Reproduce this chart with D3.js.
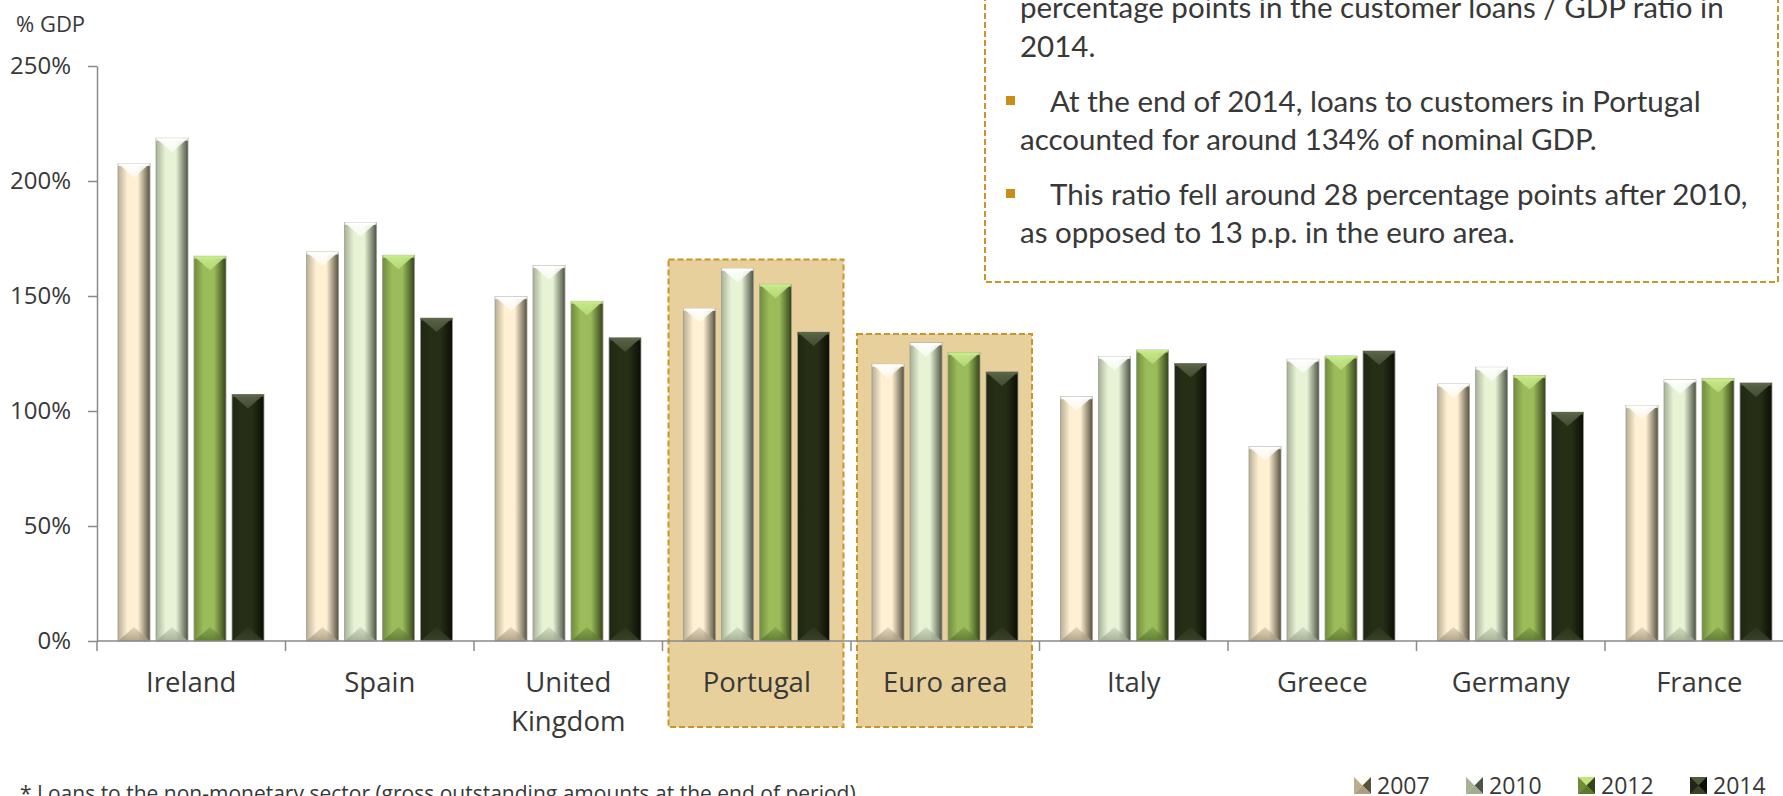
<!DOCTYPE html>
<html>
<head>
<meta charset="utf-8">
<script src="https://cdn.jsdelivr.net/npm/d3@7"></script>
<style>
  html, body { margin: 0; padding: 0; background: #fff; overflow: hidden; }
  svg { display: block; }
</style>
</head>
<body>
<svg id="chart" width="1783" height="796"></svg>
<script>
// Customer loans as % of GDP, by country and year
const categories = ["Ireland", "Spain", "United Kingdom", "Portugal", "Euro area", "Italy", "Greece", "Germany", "France"];
const years = ["2007", "2010", "2012", "2014"];
const values2007 = [207.6, 169.1, 149.7, 144.6, 120.3, 106.2, 84.5, 111.7, 102.4];
const values2010 = [218.6, 182.0, 163.2, 162.0, 129.6, 123.7, 122.5, 119.0, 113.5];
const values2012 = [167.3, 167.7, 147.7, 155.1, 125.4, 126.5, 123.9, 115.4, 114.1];
const values2014 = [107.2, 140.4, 131.8, 134.3, 117.0, 120.6, 126.1, 99.5, 112.2];
const yTicks = [0, 50, 100, 150, 200, 250];
const highlighted = ["Portugal", "Euro area"];
const noteLines = [
  { text: "percentage points in the customer loans / GDP ratio in", bullet: false },
  { text: "2014.", bullet: false },
  { text: "At the end of 2014, loans to customers in Portugal", bullet: true },
  { text: "accounted for around 134% of nominal GDP.", bullet: false },
  { text: "This ratio fell around 28 percentage points after 2010,", bullet: true },
  { text: "as opposed to 13 p.p. in the euro area.", bullet: false }
];
const footnote = "* Loans to the non-monetary sector (gross outstanding amounts at the end of period)";

const seriesValues = { "2007": values2007, "2010": values2010, "2012": values2012, "2014": values2014 };

// bevel palette for each series: side shades, face, top and bottom facets
const palette = {
  "2007": { l: "#b9ae93", face: "#fff0d3", r: "#57513f", top: "#ffffff", bot: "#a99d82" },
  "2010": { l: "#a7b198", face: "#e8f3d6", r: "#4c5443", top: "#ffffff", bot: "#a1ab91" },
  "2012": { l: "#6f8c3c", face: "#9cbc5b", r: "#34441a", top: "#c9ec8c", bot: "#5d7a2f" },
  "2014": { l: "#1f2612", face: "#262e16", r: "#0b0f05", top: "#5b6649", bot: "#3b4329" }
};

const svg = d3.select("#chart");
const defs = svg.append("defs");

const FONT = "'Open Sans', 'Noto Sans', sans-serif";
const TEXT = "#383838";

const x0 = d3.scaleBand().domain(categories).range([97, 97 + 9 * 188.5]).padding(0);
const x1 = d3.scaleBand().domain(years).range([21, 167]).paddingInner(0.158);
const y = d3.scaleLinear().domain([0, 250]).range([641, 66]);

years.forEach(yr => {
  const p = palette[yr];
  const g = defs.append("linearGradient").attr("id", "side" + yr)
    .attr("x1", "0%").attr("x2", "100%").attr("y1", "0%").attr("y2", "0%");
  g.append("stop").attr("offset", "0%").attr("stop-color", p.l);
  g.append("stop").attr("offset", "30%").attr("stop-color", p.face);
  g.append("stop").attr("offset", "62%").attr("stop-color", p.face);
  g.append("stop").attr("offset", "100%").attr("stop-color", p.r);
  const t = defs.append("linearGradient").attr("id", "top" + yr)
    .attr("x1", "0%").attr("x2", "0%").attr("y1", "0%").attr("y2", "100%");
  t.append("stop").attr("offset", "0%").attr("stop-color", p.top).attr("stop-opacity", 0.95);
  t.append("stop").attr("offset", "100%").attr("stop-color", p.top).attr("stop-opacity", 0.55);
  const b = defs.append("linearGradient").attr("id", "bot" + yr)
    .attr("x1", "0%").attr("x2", "0%").attr("y1", "0%").attr("y2", "100%");
  b.append("stop").attr("offset", "0%").attr("stop-color", p.bot).attr("stop-opacity", 0.3);
  b.append("stop").attr("offset", "100%").attr("stop-color", p.bot).attr("stop-opacity", 0.9);
});

// highlight panels behind selected groups
const boxes = svg.append("g");
highlighted.forEach(c => {
  const i = categories.indexOf(c);
  const top = y(d3.max(years, yr => seriesValues[yr][i])) - 9;
  boxes.append("rect")
    .attr("x", x0(c) + 6).attr("y", top)
    .attr("width", 175).attr("height", 727 - top)
    .attr("fill", "#e7d09b")
    .attr("stroke", "#c9952a").attr("stroke-width", 2)
    .attr("stroke-dasharray", "6,3");
});

// bars
const bevel = 14;
const groups = svg.append("g").selectAll("g").data(categories).join("g")
  .attr("transform", c => `translate(${x0(c)},0)`);

groups.each(function(c, i) {
  const g = d3.select(this);
  years.forEach(yr => {
    const v = seriesValues[yr][i];
    const bx = x1(yr), bw = x1.bandwidth();
    const by = y(v), bb = y(0);
    const d = Math.min(bevel, (bb - by) / 2);
    g.append("rect").attr("x", bx).attr("y", by).attr("width", bw).attr("height", bb - by)
      .attr("fill", `url(#side${yr})`)
      .attr("stroke", "#9c9c94").attr("stroke-width", 0.8);
    g.append("path")
      .attr("d", `M${bx},${by}L${bx + bw},${by}L${bx + bw / 2},${by + d}Z`)
      .attr("fill", `url(#top${yr})`);
    g.append("rect").attr("x", bx).attr("y", by).attr("width", bw).attr("height", 2.5)
      .attr("fill", palette[yr].top).attr("opacity", 0.7);
    g.append("path")
      .attr("d", `M${bx},${bb}L${bx + bw},${bb}L${bx + bw / 2},${bb - d}Z`)
      .attr("fill", `url(#bot${yr})`);
  });
});

// y axis
const yAxis = svg.append("g").attr("transform", "translate(97,0)")
  .call(d3.axisLeft(y).tickValues(yTicks).tickSize(9).tickSizeOuter(0).tickFormat(d => d + "%"));
yAxis.select(".domain").attr("stroke", "#8a8a8a").attr("stroke-width", 1.5);
yAxis.selectAll(".tick line").attr("stroke", "#8a8a8a").attr("stroke-width", 1.5);
yAxis.selectAll(".tick text")
  .attr("x", -26).attr("font-family", FONT).attr("font-size", 24).attr("fill", TEXT);

svg.append("text").attr("x", 16).attr("y", 32)
  .attr("font-family", FONT).attr("font-size", 22).attr("fill", TEXT).text("% GDP");

// x axis with boundary ticks and category labels
const xAxis = svg.append("g").attr("transform", `translate(0,${y(0)})`);
xAxis.append("line").attr("x1", 97).attr("x2", 1783).attr("stroke", "#8a8a8a").attr("stroke-width", 1.5);
xAxis.selectAll(".bound").data(categories).join("line").attr("class", "bound")
  .attr("x1", c => x0(c)).attr("x2", c => x0(c))
  .attr("y1", 0).attr("y2", 10).attr("stroke", "#8a8a8a").attr("stroke-width", 1.5);

const labels = xAxis.selectAll(".cat").data(categories).join("text").attr("class", "cat")
  .attr("text-anchor", "middle")
  .attr("font-family", FONT).attr("font-size", 27.5).attr("fill", TEXT)
  .attr("transform", c => `translate(${x0(c) + x0.bandwidth() / 2},51)`);
labels.each(function(c) {
  const words = c === "United Kingdom" ? ["United", "Kingdom"] : [c];
  d3.select(this).selectAll("tspan").data(words).join("tspan")
    .attr("x", 0).attr("dy", (w, k) => k === 0 ? 0 : 39).text(w => w);
});

// commentary panel
const note = svg.append("g");
note.append("rect").attr("x", 985).attr("y", -200).attr("width", 793).attr("height", 482)
  .attr("fill", "#fff").attr("stroke", "#c9952a").attr("stroke-width", 2)
  .attr("stroke-dasharray", "6,3");
const baselines = [18, 57, 112, 150, 205, 243];
noteLines.forEach((ln, k) => {
  if (ln.bullet) {
    note.append("rect").attr("x", 1006).attr("y", baselines[k] - 16).attr("width", 9).attr("height", 9)
      .attr("fill", "#c88e16");
  }
  note.append("text").attr("x", ln.bullet ? 1050 : 1020).attr("y", baselines[k])
    .attr("font-family", "Lato, 'Open Sans', sans-serif").attr("font-size", 29.5).attr("fill", TEXT)
    .text(ln.text);
});

// legend
const legend = svg.append("g").selectAll("g").data(years).join("g")
  .attr("transform", (yr, k) => `translate(${1354 + k * 112},777)`);
legend.each(function(yr) {
  const g = d3.select(this), p = palette[yr], s = 17;
  g.append("rect").attr("width", s).attr("height", s).attr("fill", p.face);
  g.append("path").attr("d", `M0,0L${s},0L${s / 2},${s / 2}Z`).attr("fill", p.top).attr("opacity", 0.8);
  g.append("path").attr("d", `M0,0L0,${s}L${s / 2},${s / 2}Z`).attr("fill", p.l);
  g.append("path").attr("d", `M${s},0L${s},${s}L${s / 2},${s / 2}Z`).attr("fill", p.r);
  g.append("path").attr("d", `M0,${s}L${s},${s}L${s / 2},${s / 2}Z`).attr("fill", p.bot);
  g.append("text").attr("x", 23).attr("y", 17)
    .attr("font-family", FONT).attr("font-size", 23).attr("fill", TEXT).text(yr);
});

// footnote
svg.append("text").attr("x", 20).attr("y", 801)
  .attr("font-family", FONT).attr("font-size", 21).attr("fill", TEXT).text(footnote);
</script>
</body>
</html>
